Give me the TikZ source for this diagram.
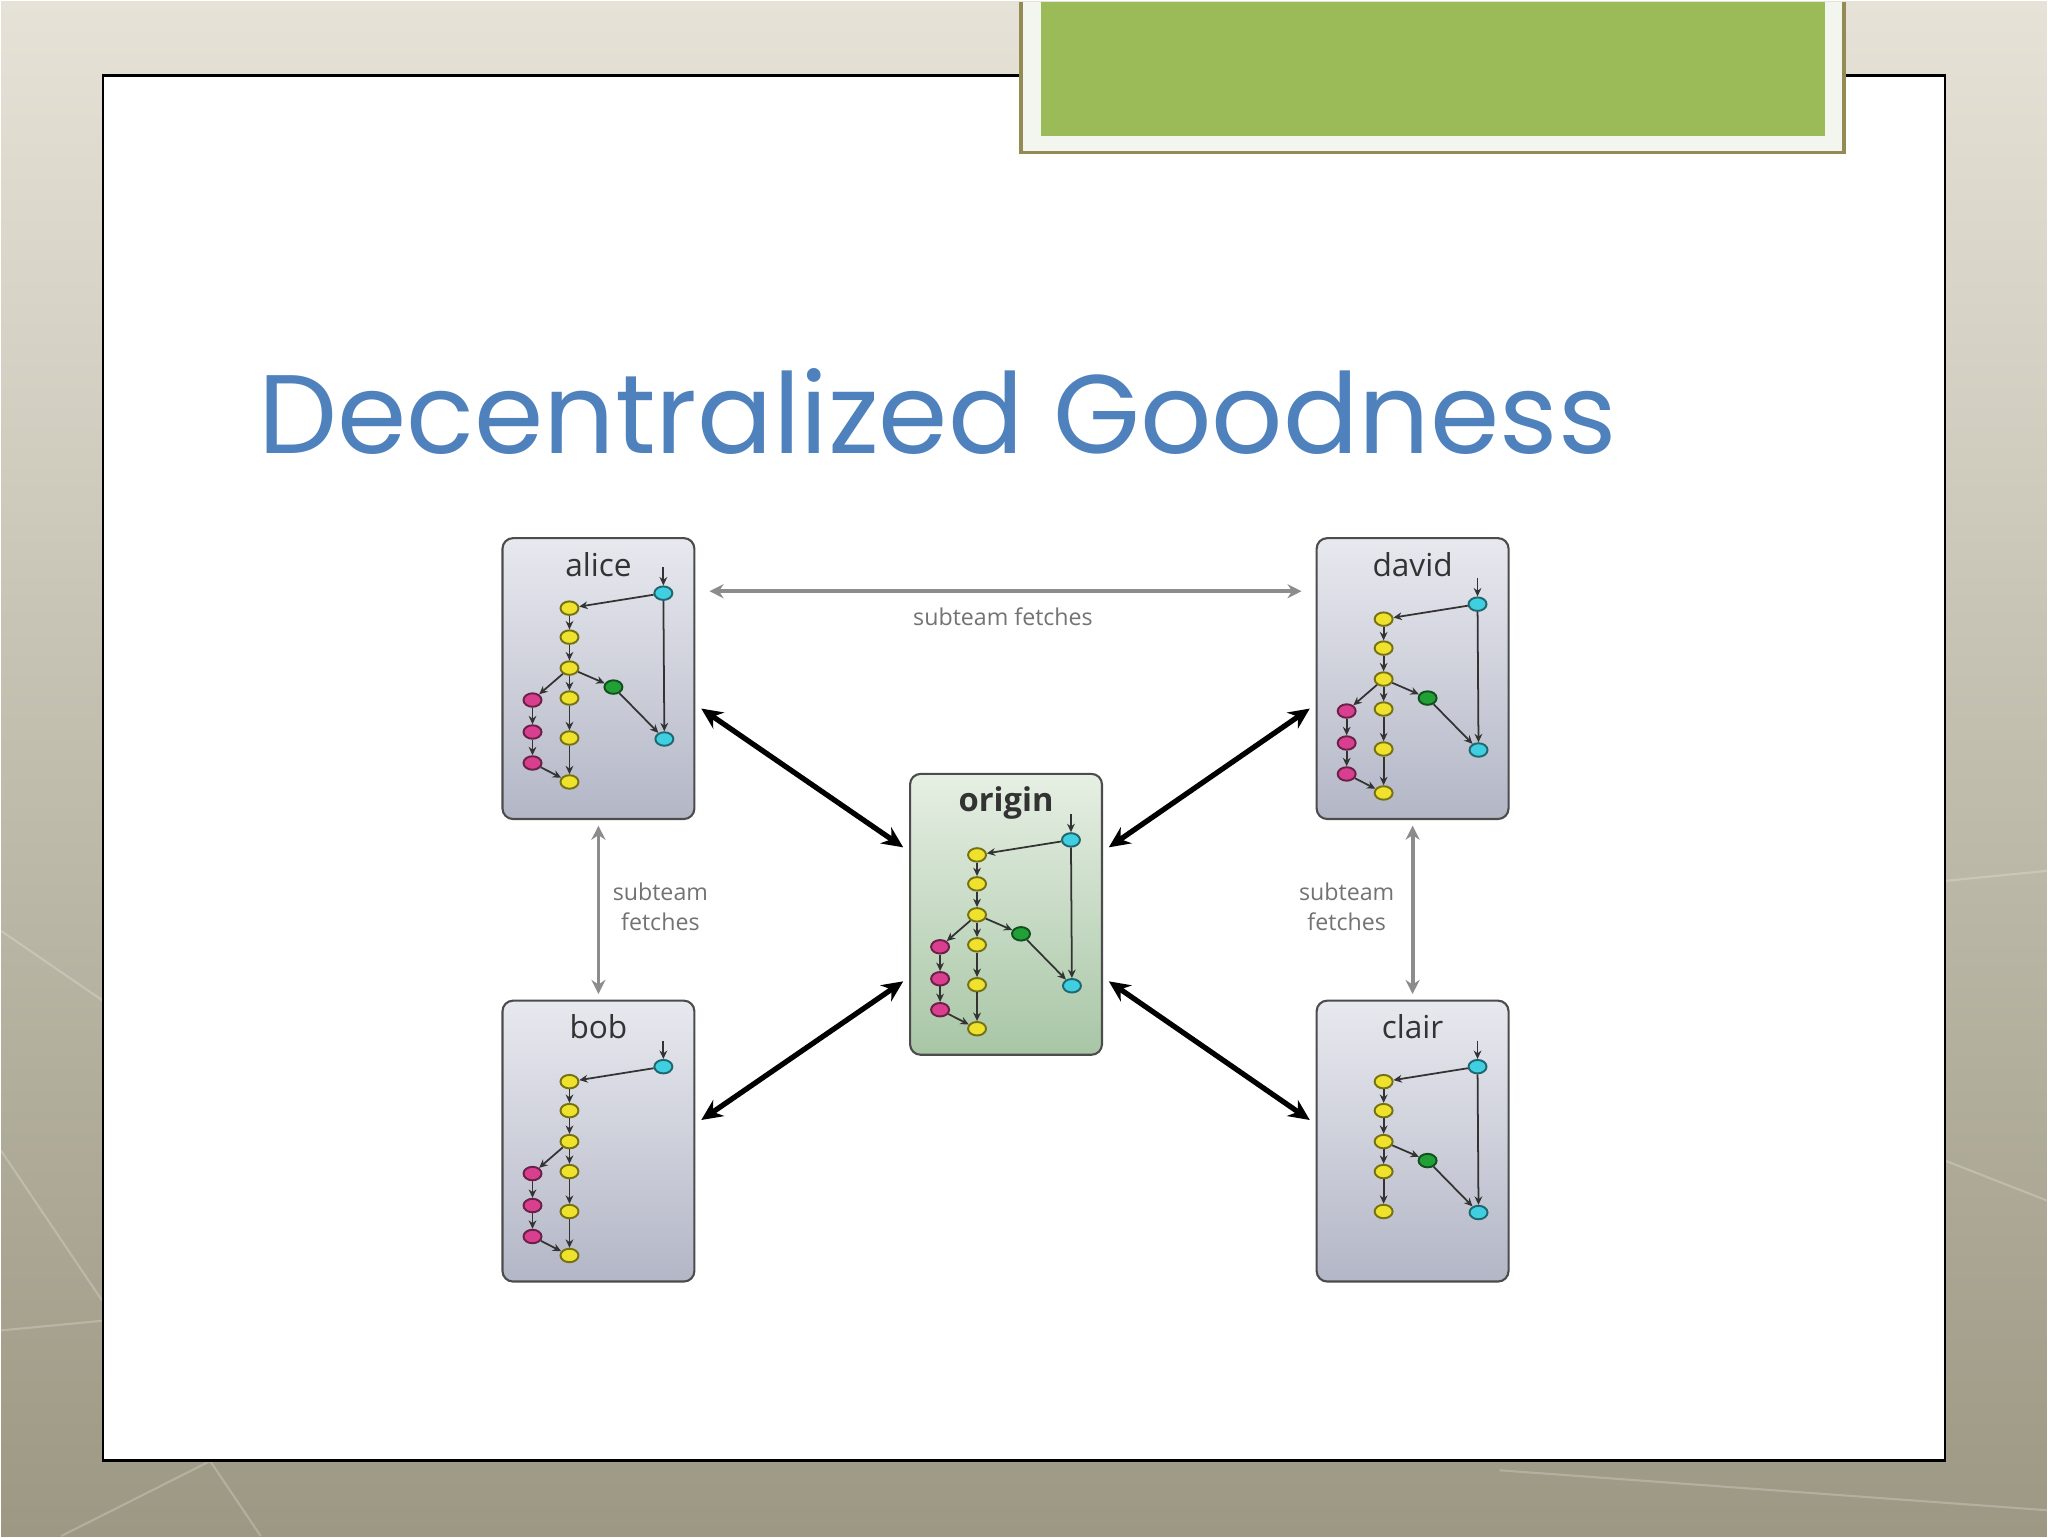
\documentclass[tikz,border=0pt]{standalone}
\usepackage{fontspec}
\setmainfont{Open Sans}
\newfontfamily\titlefont{Poppins}
\usetikzlibrary{shapes.geometric,arrows.meta}

\definecolor{titleblue}{HTML}{4F81BD}
\definecolor{bgtop}{HTML}{E6E2D7}
\definecolor{bgbot}{HTML}{9C9883}
\definecolor{hdrgreen}{HTML}{9BBB59}
\definecolor{hdrframe}{HTML}{948A54}
\definecolor{hdrpaper}{HTML}{F3F5EF}
\definecolor{boxtop}{HTML}{E8E9EF}
\definecolor{boxbot}{HTML}{B3B6C6}
\definecolor{origtop}{HTML}{E6EFE3}
\definecolor{origbot}{HTML}{A8C6A6}
\definecolor{cyellow}{HTML}{EEE22C}
\definecolor{ccyan}{HTML}{3FCFE0}
\definecolor{cgreen}{HTML}{22A038}
\definecolor{cmagenta}{HTML}{D8408F}

\begin{document}
\begin{tikzpicture}[x=0.01cm, y=-0.01cm,
    repobox/.style={draw=black!70, line width=0.6pt, rounded corners=3pt,
        minimum width=1.92cm, minimum height=2.81cm, top color=boxtop, bottom color=boxbot},
    originbox/.style={repobox, top color=origtop, bottom color=origbot},
    boxname/.style={anchor=base, inner sep=0pt, text=black!80, font=\fontsize{9}{11}\selectfont},
    commit/.style={ellipse, inner sep=0pt, minimum width=0.18cm, minimum height=0.135cm, line width=0.55pt},
    mainc/.style={commit, fill=cyellow, draw=cyellow!50!black},
    tipc/.style={commit, fill=ccyan, draw=ccyan!50!black},
    topicc/.style={commit, fill=cgreen, draw=cgreen!50!black},
    sidec/.style={commit, fill=cmagenta, draw=cmagenta!50!black},
    cedge/.style={draw=black!80, line width=0.5pt, -{Stealth[length=2.4pt, width=2.2pt]}},
    sync/.style={line width=1.5pt, {Stealth[length=6pt, width=5.5pt]}-{Stealth[length=6pt, width=5.5pt]}, shorten <=2pt, shorten >=2pt},
    fetch/.style={draw=black!45, line width=1.1pt, {Stealth[length=4pt, width=4pt]}-{Stealth[length=4pt, width=4pt]}},
    fetchlabel/.style={text=black!55, align=center, inner sep=0pt, font=\fontsize{6.6}{8.5}\selectfont}]

    % slide background
    \shade[top color=bgtop, bottom color=bgbot] (0,0) rectangle (2048,1536);
    \foreach \xa/\ya/\xb/\yb in {0/1150/260/1536, 0/1330/420/1290, 60/1536/330/1400,
        1946/880/2048/870, 1946/1160/2048/1200, 1500/1470/2048/1510, 0/930/102/1000}
        \draw[white, opacity=0.22, line width=0.6pt] (\xa,\ya) -- (\xb,\yb);
    \fill[white] (102,74) rectangle (1946,1460);
    \draw[black, line width=0.8pt] (102,74) rectangle (1946,1460);

    % header tab
    \fill[hdrpaper] (1021,0) rectangle (1845,151);
    \draw[hdrframe, line width=1pt] (1021,0) -- (1021,151) -- (1845,151) -- (1845,0);
    \fill[hdrgreen] (1041,0) rectangle (1826,134);

    % title
    \node[anchor=base west, inner sep=0pt, text=titleblue, font=\titlefont\fontsize{31.8}{38}\selectfont]
        (title) at (257,452) {Decentralized Goodness};

    % repositories
    \node[repobox] (alice) at (598,677.5) {};
    \node[repobox] (david) at (1413,677.5) {};
    \node[originbox] (origin) at (1006,913.5) {};
    \node[repobox] (bob) at (598,1140.5) {};
    \node[repobox] (clair) at (1413,1140.5) {};

    \node[boxname] (alice-name) at (598,575) {alice};
    \node[boxname] (david-name) at (1413,575) {david};
    \node[boxname, font=\bfseries\fontsize{9.3}{11}\selectfont] (origin-name) at (1006,811) {origin};
    \node[boxname] (bob-name) at (598,1038) {bob};
    \node[boxname] (clair-name) at (1413,1038) {clair};

    % commit graphs with topic branch and side branch
    \foreach \b/\bx/\by in {alice/502/526, david/1317/537, origin/910/773} {
        \node[tipc] (\b-t) at (\bx+161,\by+66) {};
        \node[tipc] (\b-b) at (\bx+162,\by+212) {};
        \node[topicc] (\b-g) at (\bx+111,\by+160) {};
        \foreach \i/\yy in {1/81,2/110,3/141,4/171,5/211,6/255}
            \node[mainc] (\b-y\i) at (\bx+67,\by+\yy) {};
        \foreach \i/\yy in {1/173,2/205,3/236}
            \node[sidec] (\b-m\i) at (\bx+30,\by+\yy) {};
        \coordinate (\b-in) at (\bx+161,\by+40);
    }
    \foreach \b in {alice,david,origin} {
        \draw[cedge] (\b-in) -- (\b-t);
        \draw[cedge] (\b-t) -- (\b-y1);
        \draw[cedge] (\b-t) -- (\b-b);
        \foreach \i/\j in {1/2,2/3,3/4,4/5,5/6}
            \draw[cedge] (\b-y\i) -- (\b-y\j);
        \draw[cedge] (\b-y3) -- (\b-g);
        \draw[cedge] (\b-g) -- (\b-b);
        \draw[cedge] (\b-y3) -- (\b-m1);
        \draw[cedge] (\b-m1) -- (\b-m2);
        \draw[cedge] (\b-m2) -- (\b-m3);
        \draw[cedge] (\b-m3) -- (\b-y6);
    }

    % bob: side branch only
    \node[tipc] (bob-t) at (663,1066) {};
    \foreach \i/\yy in {1/81,2/110,3/141,4/171,5/211,6/255}
        \node[mainc] (bob-y\i) at (569,1000+\yy) {};
    \foreach \i/\yy in {1/173,2/205,3/236}
        \node[sidec] (bob-m\i) at (532,1000+\yy) {};
    \coordinate (bob-in) at (663,1040);
    \draw[cedge] (bob-in) -- (bob-t);
    \draw[cedge] (bob-t) -- (bob-y1);
    \foreach \i/\j in {1/2,2/3,3/4,4/5,5/6}
        \draw[cedge] (bob-y\i) -- (bob-y\j);
    \draw[cedge] (bob-y3) -- (bob-m1);
    \draw[cedge] (bob-m1) -- (bob-m2);
    \draw[cedge] (bob-m2) -- (bob-m3);
    \draw[cedge] (bob-m3) -- (bob-y6);

    % clair: topic branch only
    \node[tipc] (clair-t) at (1478,1066) {};
    \node[tipc] (clair-b) at (1479,1212) {};
    \node[topicc] (clair-g) at (1428,1160) {};
    \foreach \i/\yy in {1/81,2/110,3/141,4/171,5/211}
        \node[mainc] (clair-y\i) at (1384,1000+\yy) {};
    \coordinate (clair-in) at (1478,1040);
    \draw[cedge] (clair-in) -- (clair-t);
    \draw[cedge] (clair-t) -- (clair-y1);
    \draw[cedge] (clair-t) -- (clair-b);
    \foreach \i/\j in {1/2,2/3,3/4,4/5}
        \draw[cedge] (clair-y\i) -- (clair-y\j);
    \draw[cedge] (clair-y3) -- (clair-g);
    \draw[cedge] (clair-g) -- (clair-b);

    % push/pull with origin
    \draw[sync] (alice.-15) -- (origin.147);
    \draw[sync] (david.-165) -- (origin.33);
    \draw[sync] (bob.10) -- (origin.-147);
    \draw[sync] (clair.170) -- (origin.-33);

    % subteam fetches
    \draw[fetch, shorten <=4pt, shorten >=4pt] (alice.42) -- (david.138);
    \draw[fetch, shorten <=1.6pt, shorten >=1.6pt] (alice.south) -- (bob.north);
    \draw[fetch, shorten <=1.6pt, shorten >=1.6pt] (david.south) -- (clair.north);
    \node[fetchlabel] (fetch-top) at (1003,616) {subteam fetches};
    \node[fetchlabel] (fetch-left) at (660,906) {subteam\\fetches};
    \node[fetchlabel] (fetch-right) at (1347,906) {subteam\\fetches};

\end{tikzpicture}
\end{document}
